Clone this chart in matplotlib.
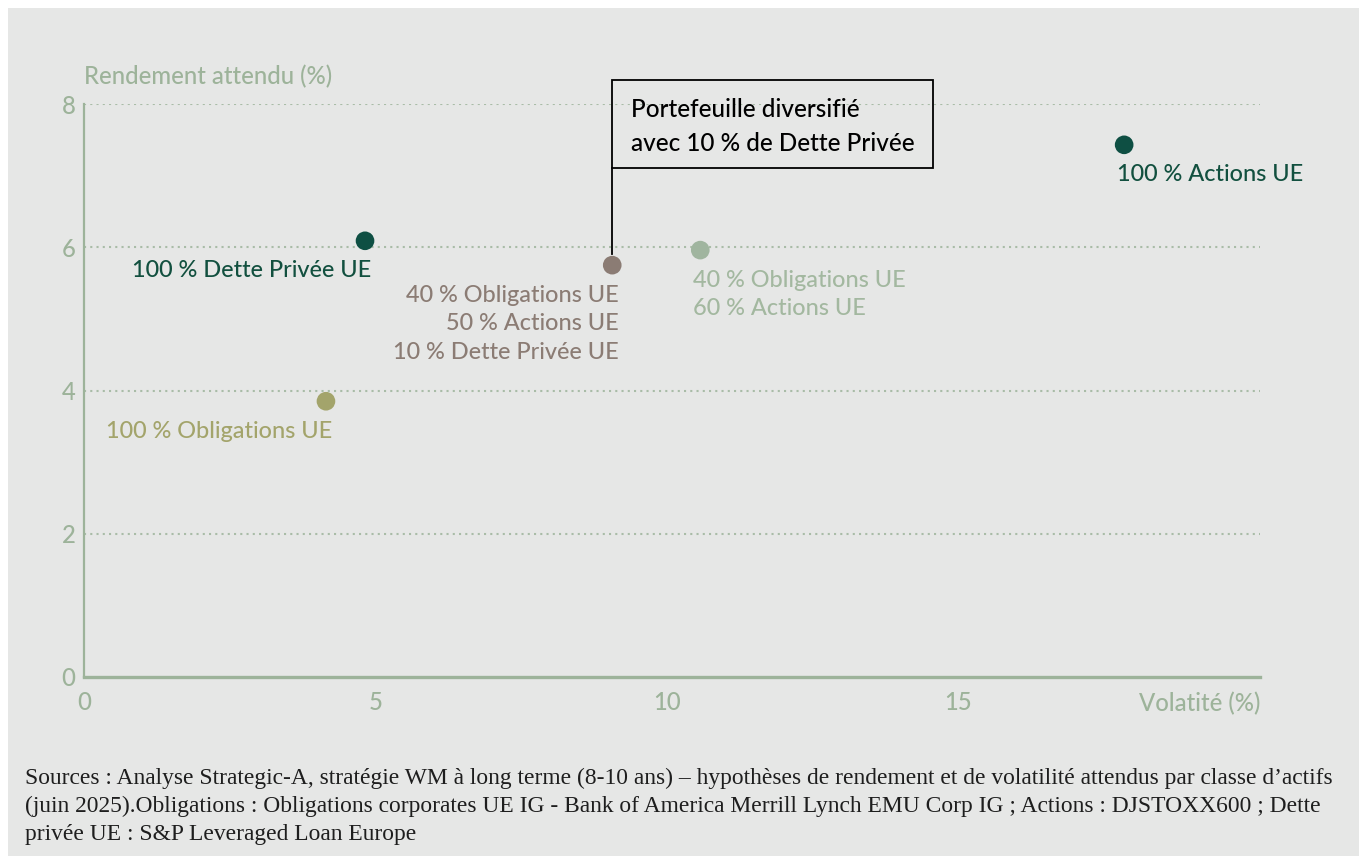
import matplotlib
matplotlib.use("Agg")
import matplotlib.pyplot as plt
from matplotlib.patches import Rectangle
from matplotlib.lines import Line2D
from matplotlib.transforms import ScaledTranslation

# Portfolio risk/return data
names = ["100 % Dette Privée UE", "100 % Obligations UE",
         "40 % Obligations UE\n50 % Actions UE\n10 % Dette Privée UE",
         "40 % Obligations UE\n60 % Actions UE", "100 % Actions UE"]
volatility = [4.82, 4.15, 9.06, 10.57, 17.84]
expected_return = [6.09, 3.85, 5.75, 5.96, 7.43]
point_colors = ["#0e4f43", "#a3a46b", "#8b7c74", "#a0b59f", "#0e4f43"]
label_colors = ["#12503f", "#a3a46b", "#8b7c74", "#a3b8a0", "#12503f"]
label_side = ["right", "right", "right", "left", "left"]

x_ticks = [0, 5, 10, 15]
y_ticks = [0, 2, 4, 6, 8]
highlight = 2
callout = "Portefeuille diversifié\navec 10 % de Dette Privée"
x_title = "Volatité (%)"
y_title = "Rendement attendu (%)"
footnote = ("Sources : Analyse Strategic-A, stratégie WM à long terme (8-10 ans) – hypothèses de rendement "
            "et de volatilité attendus par classe d’actifs\n"
            "(juin 2025).Obligations : Obligations corporates UE IG - Bank of America Merrill Lynch EMU Corp IG ; "
            "Actions : DJSTOXX600 ; Dette\n"
            "privée UE : S&P Leveraged Loan Europe")

SAGE = "#9db39a"
BG = "#e6e7e6"
SANS = "Lato"
AXIS_FS = 17.2
LABEL_FS = 16.9
CALLOUT_FS = 17.5

W, H = 1359, 856
fig = plt.figure(figsize=(W / 100, H / 100), dpi=100, facecolor="white")
fig.patches.append(Rectangle((8 / W, 0), 1, 1 - 8 / H, transform=fig.transFigure,
                             facecolor=BG, edgecolor="none", zorder=-10))

ax = fig.add_axes([84 / W, 179 / H, 1176 / W, 573 / H])
ax.set_facecolor("none")
ax.set_xlim(0, 20.17)
ax.set_ylim(0, 8)

for s in ["top", "right"]:
    ax.spines[s].set_visible(False)
ax.spines["left"].set_color(SAGE)
ax.spines["left"].set_linewidth(1.6)
ax.spines["bottom"].set_color(SAGE)
ax.spines["bottom"].set_linewidth(2.4)

ax.set_xticks(x_ticks)
ax.set_yticks(y_ticks)
ax.tick_params(length=0, colors=SAGE, labelsize=AXIS_FS)
ax.tick_params(axis="x", pad=10)
ax.tick_params(axis="y", pad=6)
for lab in ax.get_xticklabels() + ax.get_yticklabels():
    lab.set_fontfamily(SANS)
    lab.set_fontweight(500)

for yv in y_ticks[1:]:
    ax.axhline(yv, color="#a9bca7", lw=1.5, ls=(0, (1, 2)), zorder=1)

ax.scatter(volatility, expected_return, s=180, c=point_colors, zorder=5, linewidths=0)

for i, name in enumerate(names):
    right = label_side[i] == "right"
    ax.annotate(name, (volatility[i], expected_return[i]),
                xytext=(4.5 if right else -5, -14), textcoords="offset points",
                ha="right" if right else "left", va="top", multialignment="right" if right else "left",
                color=label_colors[i], fontsize=LABEL_FS, family=SANS, fontweight=500,
                linespacing=1.44)

# callout box linked to the diversified portfolio (sizes in inches, anchored on the point)
px, py = volatility[highlight], expected_return[highlight]
anchor = fig.dpi_scale_trans + ScaledTranslation(px, py, ax.transData)
box_bottom, box_w, box_h = 0.97, 3.21, 0.88
ax.add_artist(Line2D([0, 0], [0.11, box_bottom], transform=anchor, color="black", lw=1.3,
                     clip_on=False, zorder=6))
ax.add_artist(Rectangle((0, box_bottom), box_w, box_h, transform=anchor, facecolor="none",
                        edgecolor="black", lw=1.3, clip_on=False, zorder=6))
ax.text(0.19, box_bottom + 0.415, callout, transform=anchor, ha="left", va="center",
        fontsize=CALLOUT_FS, family=SANS, fontweight=500, color="black", linespacing=1.58,
        clip_on=False, zorder=6)

ax.annotate(y_title, (0, 1), xycoords="axes fraction", xytext=(0, 20), textcoords="offset points",
            ha="left", va="center", color=SAGE, fontsize=AXIS_FS, family=SANS, fontweight=500)
ax.annotate(x_title, (1, 0), xycoords="axes fraction", xytext=(0, -19), textcoords="offset points",
            ha="right", va="center", color=SAGE, fontsize=AXIS_FS, family=SANS, fontweight=500)

fig.text(25 / W, 1 - 768 / H, footnote, ha="left", va="top", fontsize=16.9,
         family="Liberation Serif", color="#1e1e1e", linespacing=1.42)

fig.savefig("out.png", dpi=100, facecolor="white")
